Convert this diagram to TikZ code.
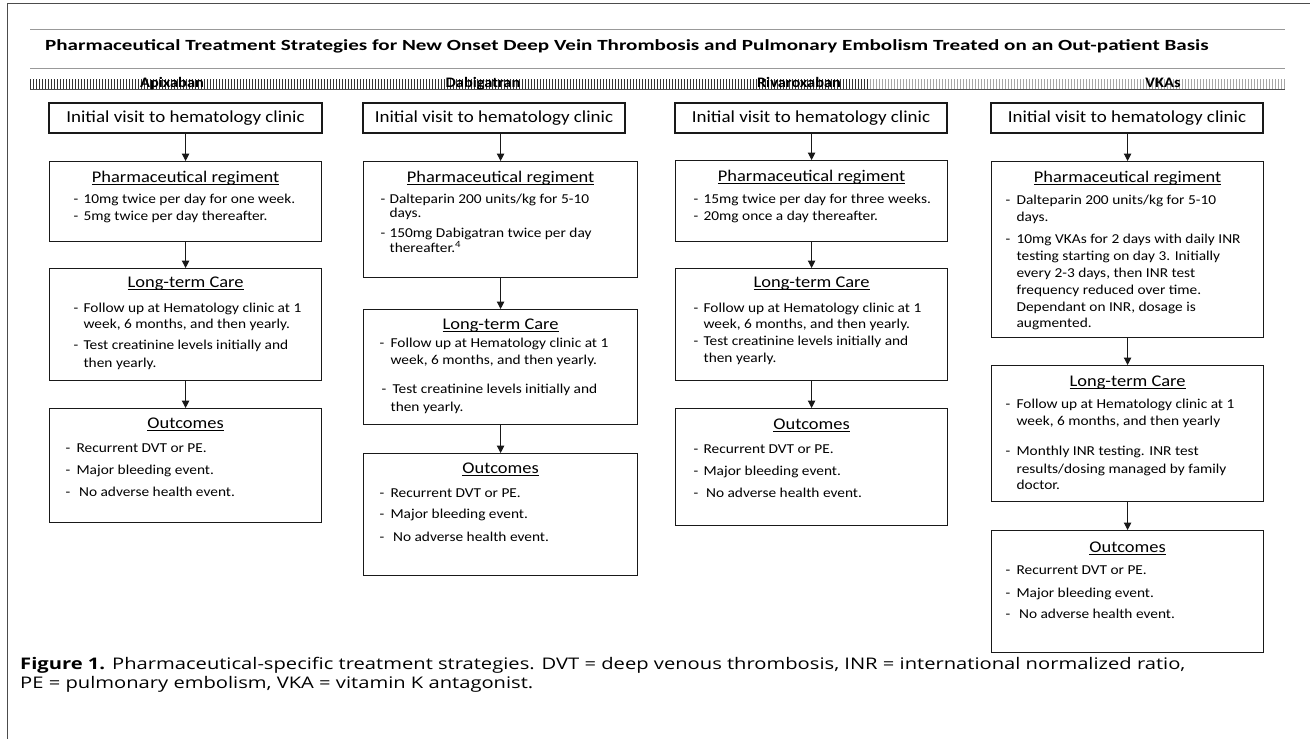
\documentclass[tikz,border=0pt]{standalone}
\usepackage{fontspec}
\setmainfont{Carlito}[FakeStretch=1.13]
\newfontfamily\titlefont{Carlito}[FakeStretch=1.36]
\newfontfamily\capfont{Open Sans}[FakeStretch=1.26]
\usetikzlibrary{arrows.meta,patterns}

\newlength\dashx \newlength\textx
\newcommand\ulh[1]{\setbox0\hbox{#1}\rlap{\rule[-2.2pt]{\wd0}{0.8pt}}\box0}
\newcommand\boxtext[5]{% width, height, dash x, text x, content
 \parbox[c][#2][t]{#1}{\fontsize{13.6pt}{16pt}\selectfont
 \setlength\baselineskip{0pt}\setlength\lineskip{0pt}\setlength\lineskiplimit{-\maxdimen}%
 \setlength\parskip{0pt}\setlength\parindent{0pt}\setlength\dashx{#3}\setlength\textx{#4}#5}}
\newcommand\hdr[2]{{\centering\fontsize{16.3pt}{18pt}\selectfont\rule{0pt}{#1}\ulh{#2}\par}}
\newcommand\bl[3][\dashx]{\par\vspace{#2}\noindent\hspace*{#1}\makebox[\dimexpr\textx-#1\relax][l]{-}#3}
\newcommand\cl[2]{\par\vspace{#1}\noindent\hspace*{\textx}#2}

\tikzset{
 box/.style={draw=black!90, line width=1.2pt, inner sep=0pt, anchor=north west},
 ibox/.style={draw=black!90, line width=1.2pt, inner sep=0pt, minimum height=30pt,
   font=\fontsize{16.8pt}{18pt}\selectfont},
 arr/.style={draw=black!90, line width=1pt, -{Triangle[width=7.5pt,length=7.5pt]}},
 colhead/.style={anchor=base, inner sep=0pt, font=\fontsize{14.5pt}{17pt}\selectfont\bfseries},
 rulegray/.style={draw=black!40, line width=0.7pt},
}

\begin{document}
\begin{tikzpicture}[x=1pt,y=-1pt]
\useasboundingbox (0,0) rectangle (1310,739);
\fill[white] (0,0) rectangle (1310,739);
% frame
\draw[black!70, line width=0.8pt] (1310,3) -- (7,3) -- (7,739);

% title between two thin rules
\draw[rulegray] (30,29) -- (1285,29);
\node[anchor=base west, inner sep=0pt, font=\titlefont\fontsize{15.5pt}{18pt}\selectfont\bfseries] (title) at (45,50)
 {Pharmaceutical Treatment Strategies for New Onset Deep Vein Thrombosis and Pulmonary Embolism Treated on an Out-patient Basis};
\draw[rulegray] (30,68) -- (1285,68);

% header band
\fill[pattern=vertical lines, pattern color=black!80] (30,79) rectangle (870,89);
\fill[pattern=vertical lines, pattern color=black!35] (870,79) rectangle (1285,89);
\draw[black!70, line width=0.7pt] (30,89.3) -- (1285,89.3);
\node[colhead] (h1) at (172,87) {Apixaban};
\node[colhead] (h2) at (483,87) {Dabigatran};
\node[colhead] (h3) at (799,87) {Rivaroxaban};
\node[colhead] (h4) at (1163,87) {VKAs};

% ---------- Apixaban ----------
\node[ibox, minimum width=273pt] (a1) at (185.5,118) {Initial visit to hematology clinic};
\node[box] (a2) at (49,161) {\boxtext{272pt}{80pt}{24pt}{34pt}{%
 \hdr{21pt}{Pharmaceutical regiment}%
 \bl{21pt}{10mg twice per day for one week.}%
 \bl{17pt}{5mg twice per day thereafter.}}};
\node[box] (a3) at (49,268) {\boxtext{272pt}{112pt}{24pt}{34pt}{%
 \hdr{19pt}{Long-term Care}%
 \bl{25pt}{Follow up at Hematology clinic at 1}%
 \cl{16pt}{week, 6 months, and then yearly.}%
 \bl{21pt}{Test creatinine levels initially and}%
 \cl{18pt}{then yearly.}}};
\node[box] (a4) at (49,408) {\boxtext{272pt}{114pt}{16pt}{27pt}{%
 \hdr{20pt}{Outcomes}%
 \bl{24pt}{Recurrent DVT or PE.}%
 \bl{22pt}{Major bleeding event.}%
 \bl{22pt}{\hspace{2.5pt}No adverse health event.}}};
\draw[arr] (a1.south -| a2.north) -- (a2.north);
\draw[arr] (a2.south) -- (a3.north);
\draw[arr] (a3.south) -- (a4.north);

% ---------- Dabigatran ----------
\node[ibox, minimum width=262pt] (b1) at (494,118) {Initial visit to hematology clinic};
\node[box] (b2) at (363,161) {\boxtext{274pt}{116pt}{17pt}{26pt}{%
 \hdr{21pt}{Pharmaceutical regiment}%
 \bl{21pt}{Dalteparin 200 units/kg for 5-10}%
 \cl{14pt}{days.}%
 \bl{20pt}{150mg Dabigatran twice per day}%
 \cl{15pt}{thereafter.\textsuperscript{4}}}};
\node[box] (b3) at (363,309) {\boxtext{274pt}{115pt}{16pt}{27pt}{%
 \hdr{20pt}{Long-term Care}%
 \bl{18pt}{Follow up at Hematology clinic at 1}%
 \cl{17pt}{week, 6 months, and then yearly.}%
 \bl[18pt]{29pt}{\hspace{2pt}Test creatinine levels initially and}%
 \cl{18pt}{then yearly.}}};
\node[box] (b4) at (363,453) {\boxtext{274pt}{122pt}{16pt}{27pt}{%
 \hdr{20pt}{Outcomes}%
 \bl{24pt}{Recurrent DVT or PE.}%
 \bl{21pt}{Major bleeding event.}%
 \bl{23pt}{\hspace{2.5pt}No adverse health event.}}};
\draw[arr] (b1.south -| b2.north) -- (b2.north);
\draw[arr] (b2.south) -- (b3.north);
\draw[arr] (b3.south) -- (b4.north);

% ---------- Rivaroxaban ----------
\node[ibox, minimum width=272pt] (c1) at (811,118) {Initial visit to hematology clinic};
\node[box] (c2) at (675,160) {\boxtext{272pt}{81pt}{18pt}{28pt}{%
 \hdr{21pt}{Pharmaceutical regiment}%
 \bl{22pt}{15mg twice per day for three weeks.}%
 \bl{17pt}{20mg once a day thereafter.}}};
\node[box] (c3) at (675,268) {\boxtext{272pt}{112pt}{18pt}{28pt}{%
 \hdr{19pt}{Long-term Care}%
 \bl{25pt}{Follow up at Hematology clinic at 1}%
 \cl{16pt}{week, 6 months, and then yearly.}%
 \bl{17pt}{Test creatinine levels initially and}%
 \cl{17pt}{then yearly.}}};
\node[box] (c4) at (675,408) {\boxtext{272pt}{117pt}{18pt}{28pt}{%
 \hdr{21pt}{Outcomes}%
 \bl{24pt}{Recurrent DVT or PE.}%
 \bl{22pt}{Major bleeding event.}%
 \bl{22pt}{\hspace{2.5pt}No adverse health event.}}};
\draw[arr] (c1.south -| c2.north) -- (c2.north);
\draw[arr] (c2.south) -- (c3.north);
\draw[arr] (c3.south) -- (c4.north);

% ---------- VKAs ----------
\node[ibox, minimum width=272pt] (d1) at (1127,118) {Initial visit to hematology clinic};
\node[box] (d2) at (991,161) {\boxtext{272pt}{176pt}{14pt}{25pt}{%
 \hdr{21pt}{Pharmaceutical regiment}%
 \bl{22pt}{Dalteparin 200 units/kg for 5-10}%
 \cl{17pt}{days.}%
 \bl{22pt}{10mg VKAs for 2 days with daily INR}%
 \cl{17pt}{testing starting on day 3. Initially}%
 \cl{17pt}{every 2-3 days, then INR test}%
 \cl{17pt}{frequency reduced over time.}%
 \cl{17pt}{Dependant on INR, dosage is}%
 \cl{16pt}{augmented.}}};
\node[box] (d3) at (991,365) {\boxtext{272pt}{136pt}{14pt}{25pt}{%
 \hdr{21pt}{Long-term Care}%
 \bl{22pt}{Follow up at Hematology clinic at 1}%
 \cl{17pt}{week, 6 months, and then yearly}%
 \bl{30pt}{Monthly INR testing. INR test}%
 \cl{18pt}{results/dosing managed by family}%
 \cl{16pt}{doctor.}}};
\node[box] (d4) at (991,530) {\boxtext{272pt}{122pt}{14pt}{25pt}{%
 \hdr{22pt}{Outcomes}%
 \bl{22pt}{Recurrent DVT or PE.}%
 \bl{23pt}{Major bleeding event.}%
 \bl{21pt}{\hspace{2.5pt}No adverse health event.}}};
\draw[arr] (d1.south -| d2.north) -- (d2.north);
\draw[arr] (d2.south) -- (d3.north);
\draw[arr] (d3.south) -- (d4.north);

% caption
\node[anchor=base west, inner sep=0pt] (cap) at (20,669) {\parbox[t]{1285pt}{\capfont\fontsize{16pt}{19pt}\selectfont
 \textbf{Figure 1.} Pharmaceutical-specific treatment strategies. DVT = deep venous thrombosis, INR = international normalized ratio,\\
 PE = pulmonary embolism, VKA = vitamin K antagonist.}};
\end{tikzpicture}
\end{document}
